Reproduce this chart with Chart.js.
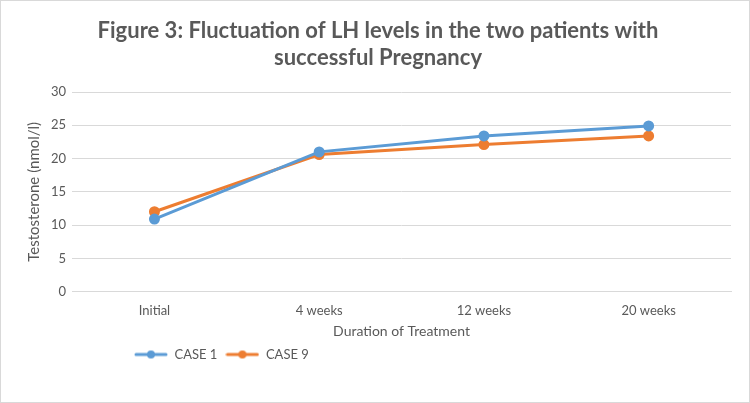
<!DOCTYPE html>
<html>
<head>
<meta charset="utf-8">
<script src="https://cdn.jsdelivr.net/npm/chart.js@4"></script>
<style>
    html, body { margin: 0; padding: 0; background: #fff; }
    #wrap {
        width: 750px; height: 403px; box-sizing: border-box;
        border: 1px solid #d9d9d9; background: #fff; position: relative;
    }
</style>
</head>
<body>
<div id="wrap"><canvas id="lhChart"></canvas></div>
<script>
// data
const durations = ['Initial', '4 weeks', '12 weeks', '20 weeks'];
const case1 = [10.9, 21.0, 23.4, 24.9];
const case9 = [12.0, 20.6, 22.1, 23.4];

const BLUE = '#5b9bd5';
const ORANGE = '#ed7d31';
const GREY = '#595959';

// little line-with-dot image for the legend, like Excel draws it
function legendMark(color) {
    const c = document.createElement('canvas');
    c.width = 34; c.height = 10;
    const g = c.getContext('2d');
    g.strokeStyle = color;
    g.lineWidth = 3;
    g.lineCap = 'round';
    g.beginPath();
    g.moveTo(2, 5);
    g.lineTo(32, 5);
    g.stroke();
    g.fillStyle = color;
    g.beginPath();
    g.arc(17, 5, 4, 0, Math.PI * 2);
    g.fill();
    return c;
}

// push the legend to the right so it starts under the plot like the original
const legendShift = {
    id: 'legendShift',
    afterLayout(chart) {
        if (chart.legend) chart.legend.left = 125;
    }
};

new Chart(document.getElementById('lhChart'), {
    type: 'line',
    data: {
        labels: durations,
        datasets: [
            {
                label: 'CASE 1',
                data: case1,
                borderColor: BLUE,
                backgroundColor: BLUE,
                borderWidth: 3,
                pointRadius: 4,
                pointHoverRadius: 4,
                tension: 0
            },
            {
                label: 'CASE 9',
                data: case9,
                borderColor: ORANGE,
                backgroundColor: ORANGE,
                borderWidth: 3,
                pointRadius: 4,
                pointHoverRadius: 4,
                tension: 0
            }
        ]
    },
    options: {
        responsive: true,
        maintainAspectRatio: false,
        animation: false,
        layout: { padding: { left: 24, right: 18, top: 0, bottom: 31 } },
        plugins: {
            title: {
                display: true,
                text: ['Figure 3: Fluctuation of LH levels in the two patients with', 'successful Pregnancy'],
                color: GREY,
                font: { family: 'Lato', size: 22, weight: 'bold', lineHeight: 1.25 },
                padding: { top: 16, bottom: 20 }
            },
            legend: {
                position: 'bottom',
                align: 'start',
                labels: {
                    color: GREY,
                    font: { family: 'Lato', size: 13 },
                    usePointStyle: true,
                    pointStyleWidth: 34,
                    padding: 8,
                    generateLabels(chart) {
                        return chart.data.datasets.map((ds, i) => ({
                            text: ds.label,
                            fontColor: GREY,
                            pointStyle: legendMark(ds.borderColor),
                            datasetIndex: i,
                            hidden: false,
                            lineWidth: 0
                        }));
                    }
                }
            },
            tooltip: { enabled: false }
        },
        scales: {
            x: {
                offset: true,
                grid: { display: false },
                border: { color: '#d9d9d9' },
                ticks: { color: GREY, font: { family: 'Lato', size: 13 }, padding: 3 },
                title: {
                    display: true,
                    text: 'Duration of Treatment',
                    color: GREY,
                    font: { family: 'Lato', size: 14 },
                    padding: { top: 2, bottom: 0 }
                }
            },
            y: {
                min: 0,
                max: 30,
                ticks: { stepSize: 5, color: GREY, font: { family: 'Lato', size: 13 }, padding: 6 },
                grid: { color: '#d9d9d9', drawTicks: false },
                border: { display: false },
                title: {
                    display: true,
                    text: 'Testosterone (nmol/l)',
                    color: GREY,
                    font: { family: 'Lato', size: 15 },
                    padding: { top: 0, bottom: 2 }
                }
            }
        }
    },
    plugins: [legendShift]
});
</script>
</body>
</html>
